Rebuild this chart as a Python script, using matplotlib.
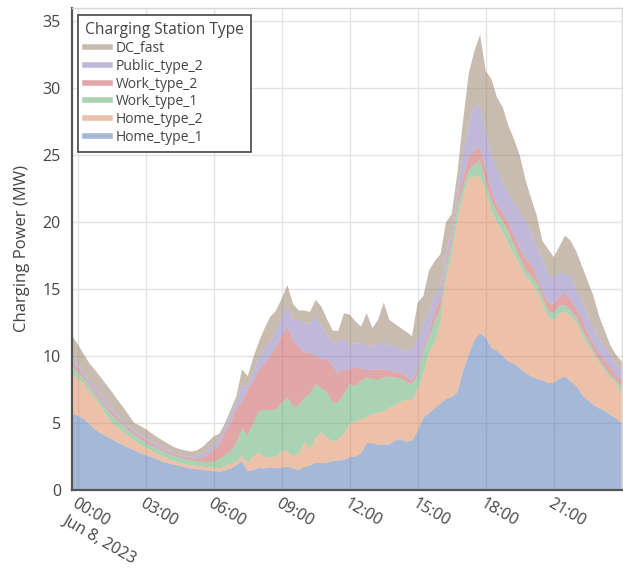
import matplotlib
matplotlib.use("Agg")
import matplotlib.pyplot as plt
from matplotlib.lines import Line2D
import numpy as np

# Time of day in hours from midnight (Jun 8 2023), 15-minute samples
hours = list(np.arange(-0.25, 24.01, 0.25))

# Charging power per station type (MW)
home_type_1 = [5.7, 5.55, 5.35, 4.95, 4.55, 4.25, 4.0, 3.8, 3.55, 3.36,
               3.15, 2.95, 2.75, 2.6, 2.45, 2.3, 2.1, 2.0, 1.9, 1.8,
               1.7, 1.6, 1.55, 1.5, 1.45, 1.4, 1.37, 1.45, 1.6, 1.85,
               2.15, 1.4, 1.5, 1.65, 1.6, 1.7, 1.62, 1.65, 1.75, 1.6,
               1.5, 1.75, 1.8, 2.05, 2.0, 2.05, 2.15, 2.2, 2.25, 2.45,
               2.5, 2.7, 3.5, 3.5, 3.36, 3.36, 3.4, 3.7, 3.75, 3.6,
               3.7, 4.4, 5.4, 5.75, 6.1, 6.45, 6.8, 6.96, 7.3, 8.9,
               10.1, 11.2, 11.7, 11.4, 10.6, 10.4, 10.0, 9.6, 9.45, 9.1,
               8.75, 8.5, 8.3, 8.2, 8.0, 8.0, 8.3, 8.5, 8.1, 7.8,
               7.1, 6.7, 6.35, 6.1, 5.9, 5.6, 5.35, 5.0]
home_type_2 = [3.0, 2.75, 2.6, 2.45, 2.3, 2.0, 1.6, 1.25, 1.15, 0.99,
               0.85, 0.75, 0.65, 0.55, 0.5, 0.4, 0.4, 0.3, 0.25, 0.2,
               0.22, 0.25, 0.25, 0.25, 0.25, 0.25, 0.25, 0.3, 0.4, 0.25,
               0.4, 0.6, 1.0, 1.15, 0.85, 0.75, 0.88, 1.2, 1.2, 0.9,
               1.2, 1.85, 1.3, 1.85, 2.3, 1.85, 1.45, 1.6, 1.95, 2.55,
               2.6, 2.6, 1.9, 2.2, 2.39, 2.54, 2.75, 2.6, 2.85, 3.12,
               3.02, 3.1, 3.3, 4.55, 4.9, 6.05, 9.0, 10.64, 12.9, 13.1,
               13.2, 12.2, 11.7, 11.0, 10.2, 9.6, 9.3, 8.8, 8.15, 7.7,
               7.25, 7.0, 6.6, 5.8, 4.9, 4.7, 4.9, 4.8, 4.9, 4.7,
               4.5, 4.1, 3.85, 3.4, 3.0, 2.8, 2.65, 2.2]
work_type_1 = [0.6, 0.5, 0.4, 0.4, 0.4, 0.4, 0.5, 0.55, 0.5, 0.5,
               0.45, 0.4, 0.4, 0.4, 0.35, 0.4, 0.4, 0.4, 0.4, 0.42,
               0.38, 0.37, 0.35, 0.35, 0.4, 0.45, 0.68, 0.85, 0.9, 1.4,
               2.05, 2.1, 2.5, 3.1, 3.52, 3.52, 3.5, 3.65, 3.95, 3.75,
               3.6, 3.3, 4.1, 4.0, 3.3, 3.4, 2.9, 2.8, 3.0, 2.9,
               2.7, 2.8, 3.0, 2.6, 2.45, 2.5, 2.3, 2.1, 1.7, 1.38,
               1.18, 1.1, 1.6, 1.1, 1.6, 1.0, 0.9, 0.8, 1.0, 0.6,
               0.6, 0.9, 1.2, 0.6, 0.8, 0.7, 0.8, 0.8, 0.7, 0.6,
               0.5, 0.5, 0.6, 0.4, 0.5, 0.5, 0.6, 0.5, 0.4, 0.4,
               0.4, 0.4, 0.2, 0.2, 0.2, 0.2, 0.2, 0.5]
work_type_2 = [0.3, 0.3, 0.25, 0.2, 0.2, 0.25, 0.2, 0.25, 0.25, 0.15,
               0.2, 0.2, 0.2, 0.2, 0.2, 0.15, 0.15, 0.15, 0.15, 0.13,
               0.15, 0.16, 0.2, 0.3, 0.5, 0.9, 1.05, 1.7, 2.1, 2.6,
               2.0, 3.4, 3.2, 3.1, 3.53, 4.03, 4.7, 5.0, 5.3, 4.95,
               4.4, 3.4, 3.05, 2.1, 2.2, 2.5, 2.8, 2.1, 1.8, 1.1,
               1.4, 1.0, 0.56, 0.7, 0.8, 0.6, 0.45, 0.4, 0.4, 0.4,
               0.2, 0.4, 0.3, 0.4, 0.7, 0.9, 0.4, 0.5, 0.6, 0.7,
               1.0, 1.0, 1.0, 1.0, 0.8, 0.6, 0.6, 0.8, 0.7, 0.7,
               0.8, 0.9, 0.5, 0.4, 0.6, 0.7, 0.7, 0.9, 0.8, 0.6,
               0.8, 0.5, 0.5, 0.5, 0.6, 0.6, 0.4, 0.5]
public_type_2 = [0.4, 0.2, 0.2, 0.2, 0.3, 0.3, 0.3, 0.2, 0.15, 0.2,
                 0.15, 0.15, 0.15, 0.15, 0.15, 0.2, 0.17, 0.15, 0.1, 0.1,
                 0.1, 0.12, 0.2, 0.25, 0.4, 0.35, 0.45, 0.3, 0.6, 0.4,
                 1.2, 0.3, 0.6, 0.9, 1.0, 1.1, 1.3, 1.3, 1.6, 1.5,
                 2.0, 2.2, 2.15, 2.9, 2.5, 1.8, 1.6, 2.4, 2.3, 1.8,
                 1.75, 1.85, 1.79, 1.7, 1.9, 2.0, 1.9, 1.95, 1.8, 1.9,
                 2.4, 2.3, 1.8, 1.5, 1.3, 0.9, 0.7, 0.6, 0.5, 1.9,
                 2.4, 3.4, 3.1, 2.8, 2.6, 2.7, 2.3, 2.2, 2.4, 2.7,
                 2.9, 2.4, 2.2, 2.5, 2.1, 2.0, 1.7, 1.5, 1.7, 1.5,
                 1.4, 1.4, 1.2, 1.1, 1.0, 0.9, 0.8, 0.8]
dc_fast = [1.5, 1.6, 1.4, 1.3, 1.25, 1.25, 1.3, 1.3, 1.15, 1.0,
           0.8, 0.55, 0.65, 0.65, 0.6, 0.5, 0.48, 0.45, 0.4, 0.4,
           0.4, 0.37, 0.4, 0.55, 0.6, 0.65, 0.4, 0.4, 0.4, 0.5,
           1.2, 0.7, 1.1, 1.2, 1.6, 1.85, 1.4, 1.5, 1.5, 1.2,
           0.7, 0.9, 0.9, 1.3, 1.4, 1.15, 1.0, 0.8, 1.9, 2.3,
           1.65, 1.25, 2.45, 1.4, 1.8, 3.0, 1.9, 1.65, 1.6, 1.4,
           1.0, 2.7, 2.1, 3.1, 2.5, 2.3, 2.2, 1.1, 1.4, 2.4,
           3.8, 4.1, 5.3, 4.5, 5.7, 5.3, 5.6, 5.0, 4.8, 4.2,
           3.0, 2.5, 2.3, 1.3, 1.9, 1.5, 2.0, 2.8, 2.7, 2.8,
           2.5, 2.5, 2.4, 1.7, 1.2, 0.7, 0.7, 0.6]

station_types = ["Home_type_1", "Home_type_2", "Work_type_1",
                 "Work_type_2", "Public_type_2", "DC_fast"]
tick_hours = [0, 3, 6, 9, 12, 15, 18, 21]
tick_labels = ["00:00\nJun 8, 2023", "03:00", "06:00", "09:00",
               "12:00", "15:00", "18:00", "21:00"]
y_ticks = [0, 5, 10, 15, 20, 25, 30, 35]

colors = ["#4C72B0", "#DD8452", "#55A868", "#C44E52", "#8172B3", "#937860"]
plt.rcParams["font.family"] = ["Open Sans", "DejaVu Sans"]
text_color = "#444444"

fig = plt.figure(figsize=(6.23, 5.73), dpi=100)
ax = fig.add_axes([0.1156, 0.1449, 0.8824, 0.8411])

series = [home_type_1, home_type_2, work_type_1, work_type_2,
          public_type_2, dc_fast]
ax.stackplot(hours, *series, colors=colors, alpha=0.5, linewidth=0,
             labels=station_types, zorder=2)

ax.set_xlim(-0.25, 24.0)
ax.set_ylim(0, 36)
ax.set_xticks(tick_hours)
ax.set_xticklabels(tick_labels, rotation=-30, ha="left", va="top",
                   rotation_mode="anchor", multialignment="left",
                   fontsize=11.5, color=text_color, linespacing=1.25)
ax.set_yticks(y_ticks)
ax.set_yticklabels([str(v) for v in y_ticks], fontsize=11.5, color=text_color)
ax.tick_params(axis="both", length=0)
ax.tick_params(axis="y", pad=8)
ax.tick_params(axis="x", pad=4)

ax.grid(True, color="#e3e3e3", linewidth=1.0, zorder=0)
ax.set_axisbelow(True)

for side in ("top", "right"):
    ax.spines[side].set_color("#d6d6d6")
    ax.spines[side].set_linewidth(1.0)
for side in ("left", "bottom"):
    ax.spines[side].set_color("#555555")
    ax.spines[side].set_linewidth(1.6)

ax.set_ylabel("Charging Power (MW)", fontsize=12, color=text_color,
              labelpad=9)

handles = [Line2D([0], [0], color=c, alpha=0.5, linewidth=4)
           for c in colors]
leg = ax.legend(handles[::-1], station_types[::-1],
                title="Charging Station Type", loc="upper left",
                bbox_to_anchor=(0.011, 0.985), borderaxespad=0,
                frameon=True, fancybox=False,
                fontsize=10, title_fontsize=11.2, handlelength=1.8,
                handletextpad=0.4, labelspacing=0.2, borderpad=0.5,
                framealpha=1.0, edgecolor="#444444")
leg.get_frame().set_linewidth(1.2)
leg._legend_box.align = "left"
for t in leg.get_texts():
    t.set_color(text_color)
leg.get_title().set_color(text_color)

fig.savefig("out.png", dpi=100)
